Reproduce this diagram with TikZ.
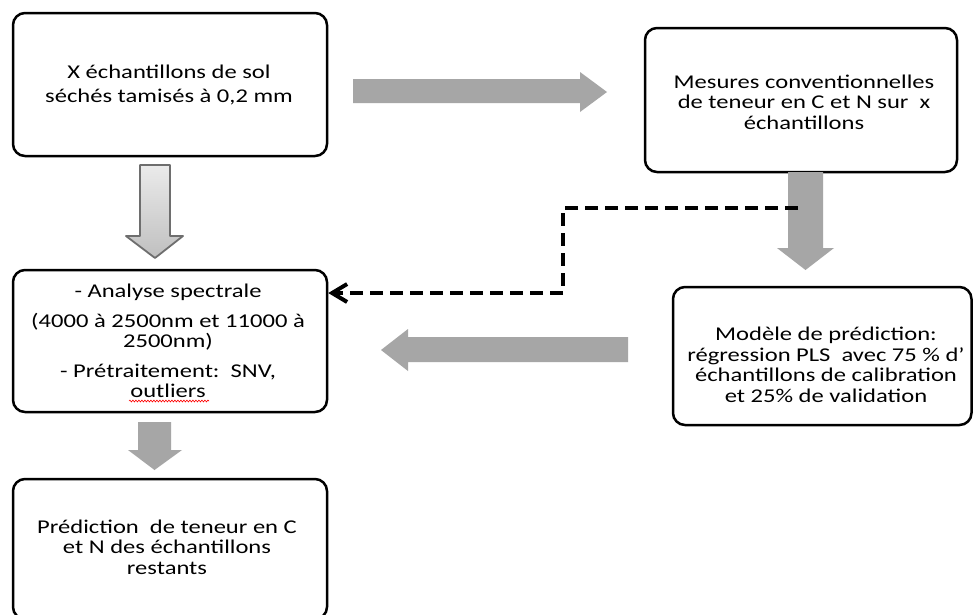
\documentclass[tikz,border=0pt]{standalone}
\usepackage{fontspec}
\setmainfont{Carlito}
\newfontfamily\boxfont[FakeStretch=1.26]{Carlito}
\usetikzlibrary{arrows.meta,decorations.pathmorphing}
\definecolor{arrowgray}{HTML}{A6A6A6}
\definecolor{outlinegray}{HTML}{6E6E6E}
\tikzset{
  stepbox/.style={draw=black, line width=2.5pt, rounded corners=12pt, fill=white, inner sep=0pt},
  boxtext/.style={align=center, inner sep=0pt, font=\boxfont\fontsize{19.5}{20.5}\selectfont},
  blockarrow/.style={fill=arrowgray, draw=none},
  feedback/.style={draw=black, line width=4pt, dash pattern=on 13pt off 7pt, -{Straight Barb[length=15pt,width=18pt]}}
}
\begin{document}
\begin{tikzpicture}[x=1pt,y=-1pt]
\useasboundingbox (0,0) rectangle (974,614);
\fill[white] (0,0) rectangle (974,614);

% boxes
\node[stepbox, minimum width=314pt, minimum height=143pt] (b1) at (170,84.5) {};
\node[stepbox, minimum width=312pt, minimum height=144pt] (b2) at (801,100) {};
\node[stepbox, minimum width=314pt, minimum height=142pt] (b3) at (170,341) {};
\node[stepbox, minimum width=298.5pt, minimum height=138pt] (b4) at (822.25,356) {};
\node[stepbox, minimum width=314pt, minimum height=140pt] (b5) at (170,549) {};

% texts
\node[boxtext, font=\boxfont\fontsize{19.5}{24}\selectfont] (t1) at (169,85) {X échantillons de sol\\séchés tamisés à 0,2 mm};
\node[boxtext] (t2) at (804,102) {Mesures conventionnelles\\de teneur en C et N sur\ \ x\\échantillons};
\node[boxtext] (t3) at (168,341) {- Analyse spectrale\\[9pt](4000 à 2500nm et 11000 à\\2500nm)\\[9pt]- Prétraitement:\ \ SNV,\\outliers};
\node[boxtext] (t4) at (826,365) {Modèle de prédiction:\\régression PLS\ \ avec 75 \% d’\\échantillons de calibration\\et 25\% de validation};
\node[boxtext] (t5) at (167,547) {Prédiction\ \ de teneur en C\\et N des échantillons\\restants};

% spell-check squiggle under "outliers"
\coordinate (sq1) at (129,401);
\coordinate (sq2) at (209,401);
\draw[red, line width=0.6pt, decorate, decoration={snake, amplitude=0.9pt, segment length=3pt}] (sq1) -- (sq2);

% right block arrow b1 -> b2
\fill[blockarrow] (353,79) -- (580,79) -- (580,72) -- (607,92) -- (580,112) -- (580,103) -- (353,103) -- cycle;

% down block arrow b2 -> b4
\fill[blockarrow] (788,172) -- (823,172) -- (823,248) -- (834,248) -- (805.5,270) -- (777,248) -- (788,248) -- cycle;

% left block arrow b4 -> b3
\fill[blockarrow] (628,337) -- (408,337) -- (408,329) -- (381,350) -- (408,371) -- (408,362) -- (628,362) -- cycle;

% down block arrow b3 -> b5
\fill[blockarrow] (138,422) -- (171,422) -- (171,450) -- (182,450) -- (154.5,470) -- (128,450) -- (138,450) -- cycle;

% down outlined gradient arrow b1 -> b3
\shade[top color=white!92!black, bottom color=white!75!black, draw=outlinegray, line width=1.8pt, line join=round]
  (140,165) -- (170,165) -- (170,236) -- (183,236) -- (155,258) -- (126,236) -- (140,236) -- cycle;

% dashed feedback connector
\coordinate (d0) at (798,208);
\coordinate (d1) at (563,208);
\coordinate (d2) at (563,293);
\draw[feedback] (d0) -- (d1) -- (d2) -- (b3.east |- d2);
\end{tikzpicture}
\end{document}
